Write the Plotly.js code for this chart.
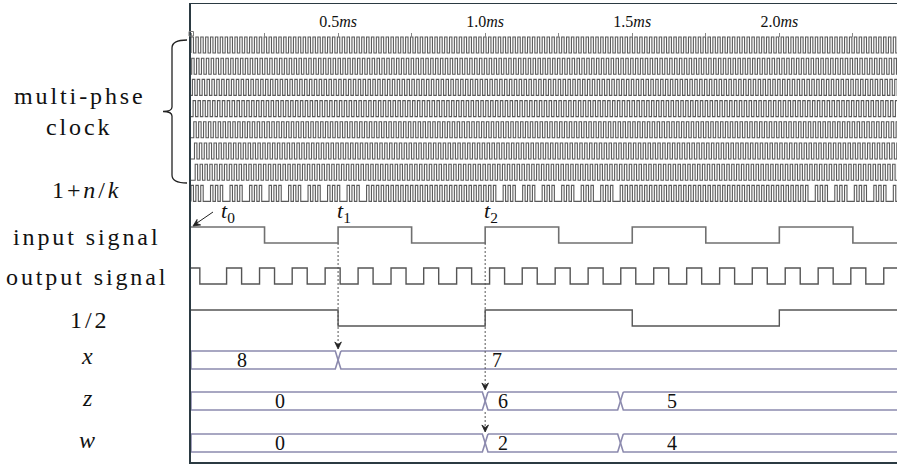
<!DOCTYPE html>
<html><head><meta charset="utf-8">
<script src="https://cdn.plot.ly/plotly-3.0.1.min.js"></script>
<style>html,body{margin:0;padding:0;background:#fff;}#chart{width:897px;height:465px;}</style>
</head><body><div id="chart"></div>
<script>
// ---------------- data ----------------
const timeTickVals = [0.5, 1.0, 1.5, 2.0];
const timeTickText = ['0.5<i>ms</i>', '1.0<i>ms</i>', '1.5<i>ms</i>', '2.0<i>ms</i>'];
const timeMinorStep = 0.25;

const clockPeriod = 0.01658;            // ms, multi-phase clock period
const clockPhaseSteps = [0, 1, 2, 3, 4, 5, 6]; // phase index (period/7 each)
const swallowEvery = 4;                 // 1+n/k clock: one pulse dropped in every 4
const gapStarts = [0.00, 0.99, 2.05];   // ms, regions where pulses are swallowed
const gapEnds   = [0.59, 1.45, 2.40];

const inputEdges  = [0, 0.25, 0.5, 0.75, 1.0, 1.25, 1.5, 1.75, 2.0, 2.25, 2.45];
const inputLevels = [1, 0, 1, 0, 1, 0, 1, 0, 1, 0];

const outputRises = [0.000, 0.121, 0.233, 0.344, 0.456, 0.568, 0.680, 0.791, 0.903, 1.015, 1.126,
                     1.238, 1.350, 1.461, 1.573, 1.685, 1.797, 1.908, 2.020, 2.132, 2.243, 2.355];
const outputFalls = [0.030, 0.172, 0.284, 0.395, 0.507, 0.619, 0.731, 0.842, 0.954, 1.066, 1.177,
                     1.289, 1.401, 1.512, 1.624, 1.736, 1.848, 1.959, 2.071, 2.183, 2.294, 2.406];

const halfEdges  = [0, 0.5, 1.0, 1.5, 2.0, 2.45];
const halfLevels = [1, 0, 1, 0, 1];

const xBusEdges = [0, 0.5, 2.45];
const xBusValues = ['8', '7'];
const xBusLabelAt = [0.173, 1.04];

const zBusEdges = [0, 1.0, 1.46, 2.45];
const zBusValues = ['0', '6', '5'];
const zBusLabelAt = [0.303, 1.061, 1.636];

const wBusEdges = [0, 1.0, 1.46, 2.45];
const wBusValues = ['0', '2', '4'];
const wBusLabelAt = [0.303, 1.061, 1.636];

const rowLabels = ['multi-phse', 'clock', '1+<i>n</i>/<i>k</i>', 'input signal', 'output signal', '1/2',
                   '<i>x</i>', '<i>z</i>', '<i>w</i>'];
const timeMarks = ['<i>t</i><sub>0</sub>', '<i>t</i><sub>1</sub>', '<i>t</i><sub>2</sub>'];
const timeMarkAt = [0.0, 0.5, 1.0];

// ---------------- layout constants ----------------
const T_END = 2.4;
const PLOT_L = 191, PLOT_W = 706, PLOT_T = 4;
const PXPERMS = PLOT_W / T_END;
const px2paper = px => (px - PLOT_L) / PLOT_W;
const px2t = px => (px - PLOT_L) / PXPERMS;
const clockTop0 = 33, clockPitch = 21.2, clockH = 16;
const rowsY = {
  input: [223, 239], output: [264, 280], half: [306, 322],
  xbus: [347, 365], zbus: [388, 406], wbus: [430, 448]
};
const SERIF = 'Liberation Serif, Times New Roman, Tinos, DejaVu Serif, serif';

const traces = [];

// clocks
function clockTrace(phase, top, bottom, swallow) {
  const xs = [0], ys = [bottom];
  for (let k = 0; ; k++) {
    const r = phase + k * clockPeriod;
    if (r >= T_END + 0.03) break;
    if (swallow && (k % swallowEvery === swallowEvery - 1)) {
      let inGap = false;
      for (let g = 0; g < gapStarts.length; g++) if (r >= gapStarts[g] && r < gapEnds[g]) inGap = true;
      if (inGap) continue;
    }
    xs.push(r); ys.push(top);
    xs.push(r + clockPeriod / 2); ys.push(bottom);
  }
  return { x: xs, y: ys, type: 'scatter', mode: 'lines', line: { shape: 'hv', color: '#5a5a5a', width: 1.1 },
           hoverinfo: 'skip', showlegend: false };
}
clockPhaseSteps.forEach((s, i) => {
  const top = clockTop0 + clockPitch * i;
  traces.push(clockTrace(s * clockPeriod / 7, top, top + clockH, false));
});
{
  const top = clockTop0 + clockPitch * 7;
  traces.push(clockTrace(0, top, top + clockH, true));
}

// step signals
function stepTrace(edges, levels, row, color, width) {
  const xs = [], ys = [];
  for (let i = 0; i < levels.length; i++) { xs.push(edges[i]); ys.push(levels[i] ? row[0] : row[1]); }
  xs.push(edges[edges.length - 1]); ys.push(levels[levels.length - 1] ? row[0] : row[1]);
  return { x: xs, y: ys, type: 'scatter', mode: 'lines', line: { shape: 'hv', color: color, width: width },
           hoverinfo: 'skip', showlegend: false };
}
traces.push(stepTrace(inputEdges, inputLevels, rowsY.input, '#707070', 1.6));
{
  const e = [], l = [];
  for (let i = 0; i < outputRises.length; i++) {
    e.push(outputRises[i]); l.push(1);
    e.push(outputFalls[i]); l.push(0);
  }
  e.push(2.45);
  traces.push(stepTrace(e, l, rowsY.output, '#555555', 1.4));
}
traces.push(stepTrace(halfEdges, halfLevels, rowsY.half, '#555555', 1.4));

// buses
const BEV = 0.0095;
const annotations = [];
function busTrace(edges, values, labelAt, row) {
  const xs = [], ys = [];
  const mid = (row[0] + row[1]) / 2;
  for (let i = 0; i < values.length; i++) {
    const a = edges[i], b = edges[i + 1];
    const aIn = i === 0 ? a : a + BEV, bIn = i === values.length - 1 ? b : b - BEV;
    xs.push(aIn, bIn); ys.push(row[0], row[0]);
    if (i !== values.length - 1) { xs.push(b); ys.push(mid); }
    xs.push(bIn, aIn); ys.push(row[1], row[1]);
    if (i !== 0) { xs.push(a); ys.push(mid); }
    xs.push(aIn); ys.push(row[0]);
    xs.push(null); ys.push(null);
    annotations.push({ x: labelAt[i], y: mid, xref: 'x', yref: 'y', text: values[i], showarrow: false,
                       font: { family: SERIF, size: 20, color: '#111' }, xanchor: 'center', yanchor: 'middle' });
  }
  return { x: xs, y: ys, type: 'scatter', mode: 'lines', line: { color: '#8c8aae', width: 1.6 },
           hoverinfo: 'skip', showlegend: false };
}
traces.push(busTrace(xBusEdges, xBusValues, xBusLabelAt, rowsY.xbus));
traces.push(busTrace(zBusEdges, zBusValues, zBusLabelAt, rowsY.zbus));
traces.push(busTrace(wBusEdges, wBusValues, wBusLabelAt, rowsY.wbus));

// dummy trace for top time axis
traces.push({ x: [0, T_END], y: [null, null], xaxis: 'x2', yaxis: 'y', type: 'scatter', mode: 'lines',
              hoverinfo: 'skip', showlegend: false });

// left labels
const labelPos = [[80, 92], [79, 123], [86, 186], [86, 233], [87, 273], [89, 316], [88, 352], [88, 394], [88, 436]];
rowLabels.forEach((t, i) => {
  annotations.push({ x: px2paper(labelPos[i][0]), y: labelPos[i][1], xref: 'paper', yref: 'y',
    text: '<span style="letter-spacing:2.9px">' + t + '</span>', showarrow: false,
    font: { family: SERIF, size: 24, color: '#111' }, xanchor: 'center', yanchor: 'middle' });
});

// time marks t0 t1 t2
const markDx = [0.125, 0.02, 0.02];
timeMarks.forEach((t, i) => {
  annotations.push({ x: timeMarkAt[i] + markDx[i], y: 208, xref: 'x', yref: 'y', text: t, showarrow: false,
    font: { family: SERIF, size: 22, color: '#111' }, xanchor: 'center', yanchor: 'middle' });
});

const shapes = [];
// arrowhead (pixel geometry -> data coords)
function arrowHead(tipX, tipY, dx, dy) {
  const L = Math.hypot(dx, dy); dx /= L; dy /= L;
  const nx = -dy, ny = dx, len = 7, hw = 3.3, notch = 4.5;
  const pts = [
    [tipX, tipY],
    [tipX - dx * len + nx * hw, tipY - dy * len + ny * hw],
    [tipX - dx * notch, tipY - dy * notch],
    [tipX - dx * len - nx * hw, tipY - dy * len - ny * hw]
  ];
  const path = 'M ' + pts.map(p => px2t(p[0]) + ',' + (p[1] - PLOT_T)).join(' L ') + ' Z';
  shapes.push({ type: 'path', xref: 'x', yref: 'y', path: path, fillcolor: '#222', line: { color: '#222', width: 0.8 } });
}
// t0 arrow
shapes.push({ type: 'line', xref: 'x', yref: 'y', x0: px2t(213), y0: 212 - PLOT_T, x1: px2t(194), y1: 225 - PLOT_T,
              line: { color: '#222', width: 1 } });
arrowHead(193, 226, -20, 13);

// dashed guides + arrowheads
function dashed(t, y0, y1) {
  shapes.push({ type: 'line', xref: 'x', yref: 'y', x0: t, x1: t, y0: y0, y1: y1 - 2,
                line: { color: '#555', width: 1, dash: '2px,2px' } });
  arrowHead(PLOT_L + t * PXPERMS, y1 + PLOT_T, 0, 1);
}
dashed(timeMarkAt[1], rowsY.input[1], rowsY.xbus[0] - 2);
dashed(timeMarkAt[2], rowsY.input[1], rowsY.zbus[0] - 2);
dashed(timeMarkAt[2], rowsY.zbus[1] + 2, rowsY.wbus[0] - 2);

// brace + origin marker
{
  const P = px2paper;
  const path = `M ${P(187)},36 Q ${P(172)},36 ${P(172)},44 L ${P(172)},103 Q ${P(172)},107.5 ${P(163)},107.5 ` +
               `Q ${P(172)},107.5 ${P(172)},112 L ${P(172)},171 Q ${P(172)},179 ${P(187)},179`;
  shapes.push({ type: 'path', xref: 'paper', yref: 'y', path: path, line: { color: '#222', width: 1.3 } });
  shapes.push({ type: 'rect', xref: 'paper', yref: 'y', x0: P(189), x1: P(193.5), y0: 27.5, y1: 32,
                line: { color: '#777', width: 1 }, fillcolor: 'rgba(0,0,0,0)' });
}

const layout = {
  width: 897, height: 465,
  margin: { l: PLOT_L, r: 0, t: PLOT_T, b: 3, pad: 0 },
  paper_bgcolor: '#fff', plot_bgcolor: '#fff',
  showlegend: false,
  font: { family: SERIF },
  xaxis: { range: [0, T_END], showgrid: false, zeroline: false, showticklabels: false, ticks: '',
           showline: true, mirror: true, linecolor: '#2b3a42', linewidth: 1.5 },
  xaxis2: { range: [0, T_END], overlaying: 'x', side: 'top', anchor: 'free', position: (462 - 37) / 458,
            showgrid: false, zeroline: false, showline: false, tickmode: 'array', tickvals: timeTickVals,
            ticktext: timeTickText, ticks: 'outside', ticklen: 4, tickcolor: '#888', tickwidth: 1,
            minor: { dtick: timeMinorStep, tick0: 0, ticks: 'outside', ticklen: 4, tickcolor: '#888', tickwidth: 1, showgrid: false },
            tickfont: { family: SERIF, size: 16, color: '#111' } },
  yaxis: { range: [458, 0], showgrid: false, zeroline: false, showticklabels: false, ticks: '',
           showline: true, linecolor: '#2b3a42', linewidth: 2.2 },
  annotations: annotations,
  shapes: shapes
};

Plotly.newPlot('chart', traces, layout, { staticPlot: true, displayModeBar: false });
</script></body></html>
